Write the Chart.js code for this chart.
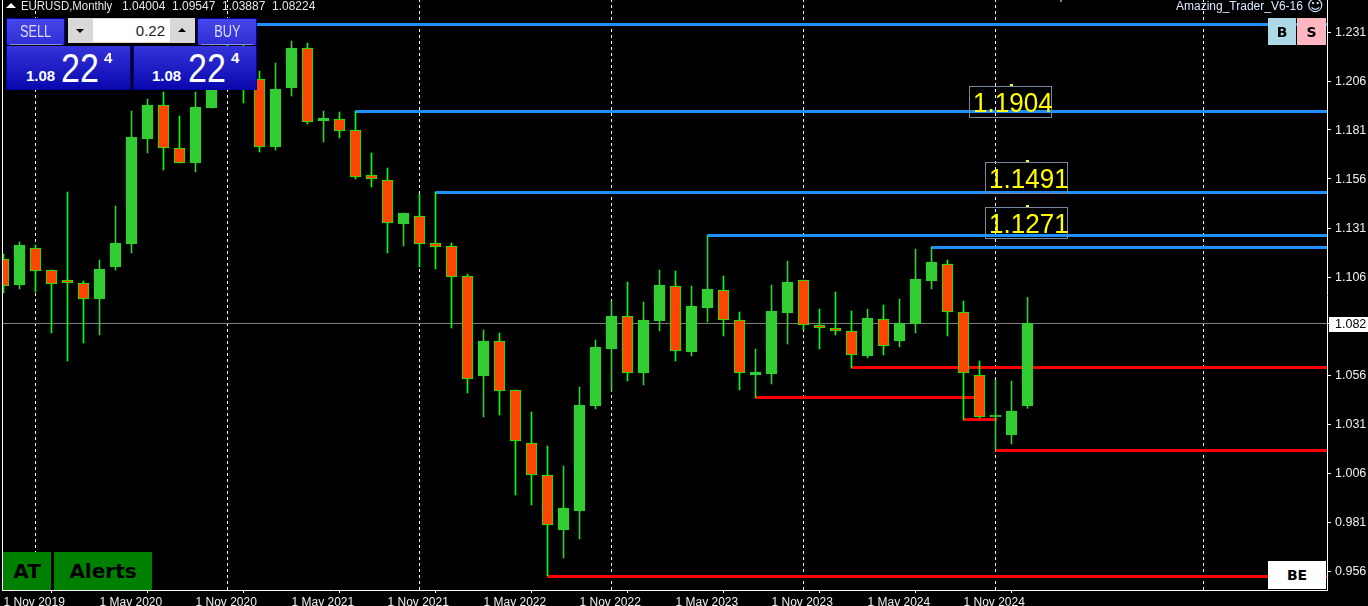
<!DOCTYPE html>
<html>
<head>
<meta charset="utf-8">
<title>EURUSD Monthly</title>
<script src="https://cdn.jsdelivr.net/npm/chart.js@4/dist/chart.umd.js"></script>
<style>
	html, body { margin: 0; padding: 0; background: #000; overflow: hidden; }
	#wrap { position: relative; width: 1368px; height: 606px; font-family: "Liberation Sans", Arial, sans-serif; }
	#ChartCanvas { position: absolute; left: 0; top: 0; }
	.ov { position: absolute; white-space: nowrap; }
	.head { top: -1px; color: #e6e6e6; font-size: 12px; line-height: 14px; }
	.btn { background: linear-gradient(#4646ea, #2e2ed4); color: #dcdcff; text-align: center; font-size: 16px; line-height: 25px; box-sizing: border-box; border: 1px solid #0000a0; border-bottom: 0; }
	.btn span { display: inline-block; transform: scaleX(0.8); }
	.rule { background: #8c8cf0; height: 1px; }
	.price { background: linear-gradient(#3434da, #0808ae); box-sizing: border-box; border: 1px solid #0000a0; border-top: 0; }
	.small { color: #fff; font-size: 15px; font-weight: bold; line-height: 16px; }
	.big { color: #fff; font-size: 40px; line-height: 44px; transform: scaleX(0.85); transform-origin: left center; }
	.pip { color: #fff; font-size: 15px; font-weight: bold; line-height: 16px; }
	.lvl { border: 1px solid #778899; color: #ffff00; font-size: 28px; line-height: 31px; width: 81px; height: 30px; text-align: center; }
	.lvl span { display: inline-block; transform: scaleX(0.93); }
	.dot { background: #ffff00; width: 3px; height: 2px; }
	.tag { font-family: "DejaVu Sans"; font-weight: bold; font-size: 14px; color: #000; text-align: center; }
	.green { background: #008000; top: 552px; height: 38px; color: #000; font-family: "DejaVu Sans"; font-weight: bold; font-size: 20px; line-height: 38px; text-align: center; }
</style>
</head>
<body>
<div id="wrap">
	<canvas id="ChartCanvas" width="1368" height="606"></canvas>

	<div class="ov" style="left:6px;top:3px;width:0;height:0;border-left:5px solid transparent;border-right:5px solid transparent;border-bottom:5px solid #fff;"></div>
	<div class="ov head" style="left:21px;transform:scaleX(0.95);transform-origin:left center;">EURUSD,Monthly</div>
	<div class="ov head" style="left:122px;">1.04004</div>
	<div class="ov head" style="left:172px;">1.09547</div>
	<div class="ov head" style="left:222px;">1.03887</div>
	<div class="ov head" style="left:272px;">1.08224</div>

	<div class="ov btn" style="left:6px;top:18px;width:59px;height:27px;"><span>SELL</span></div>
	<div class="ov rule" style="left:10px;top:44px;width:52px;"></div>
	<div class="ov" style="left:68px;top:18px;width:127px;height:25px;background:#d8d8d8;"></div>
	<div class="ov" style="left:93px;top:19px;width:77px;height:23px;background:#fff;"></div>
	<div class="ov" style="left:93px;top:19px;width:72px;height:23px;line-height:24px;font-size:15px;color:#222;text-align:right;">0.22</div>
	<div class="ov" style="left:76px;top:29px;width:0;height:0;border-left:4px solid transparent;border-right:4px solid transparent;border-top:4px solid #000;"></div>
	<div class="ov" style="left:178px;top:28px;width:0;height:0;border-left:4px solid transparent;border-right:4px solid transparent;border-bottom:4px solid #000;"></div>
	<div class="ov btn" style="left:197px;top:18px;width:60px;height:27px;"><span>BUY</span></div>
	<div class="ov rule" style="left:201px;top:44px;width:52px;"></div>

	<div class="ov price" style="left:6px;top:46px;width:125px;height:44px;"></div>
	<div class="ov small" style="left:26px;top:68px;">1.08</div>
	<div class="ov big" style="left:61px;top:46px;">22</div>
	<div class="ov pip" style="left:104px;top:50px;">4</div>
	<div class="ov price" style="left:133px;top:46px;width:124px;height:44px;"></div>
	<div class="ov small" style="left:152px;top:68px;">1.08</div>
	<div class="ov big" style="left:188px;top:46px;">22</div>
	<div class="ov pip" style="left:231px;top:50px;">4</div>

	<div class="ov" style="left:1176px;top:-1px;color:#d8e8ff;font-size:12px;line-height:14px;">Amazing_Trader_V6-16</div>
	<div class="ov" style="left:1307px;top:-3px;color:#d8e8ff;font-family:'DejaVu Sans';font-size:16px;line-height:18px;">&#9786;</div>
	<div class="ov tag" style="left:1268px;top:18px;width:28px;height:27px;background:#add8e6;line-height:28px;">B</div>
	<div class="ov tag" style="left:1297px;top:18px;width:29px;height:27px;background:#ffb6c1;line-height:28px;">S</div>

	<div class="ov" style="left:1060px;top:0;width:2px;height:2px;background:#778899;"></div>
	<div class="ov lvl" style="left:969px;top:86px;"><span>1.1904</span></div>
	<div class="ov dot" style="left:1010px;top:84px;"></div>
	<div class="ov lvl" style="left:985px;top:162px;"><span>1.1491</span></div>
	<div class="ov dot" style="left:1026px;top:160px;"></div>
	<div class="ov lvl" style="left:985px;top:207px;"><span>1.1271</span></div>
	<div class="ov dot" style="left:1026px;top:205px;"></div>

	<div class="ov tag" style="left:1268px;top:561px;width:58px;height:28px;background:#fff;line-height:29px;">BE</div>
	<div class="ov green" style="left:3px;width:48px;">AT</div>
	<div class="ov green" style="left:54px;width:98px;">Alerts</div>
</div>

<script>
// monthly candles, Nov 2019 to Mar 2025
const opens = [
	1.11505, 1.10179, 1.12066, 1.10944, 1.10434, 1.10281, 1.09464, 1.11097, 1.12270, 1.17628,
	1.19362, 1.17168, 1.16403, 1.19209, 1.22168, 1.21352, 1.20688, 1.17219, 1.20229, 1.22270,
	1.18546, 1.18648, 1.18087, 1.15791, 1.15536, 1.13291, 1.13699, 1.12321, 1.12168, 1.10638,
	1.05536, 1.07321, 1.04821, 1.02117, 1.00485, 0.97678, 0.98648, 1.04005, 1.06913, 1.08597,
	1.05689, 1.08342, 1.10128, 1.06760, 1.09005, 1.09923, 1.08393, 1.05587, 1.05638, 1.08750,
	1.10434, 1.08137, 1.07984, 1.07831, 1.06556, 1.08444, 1.07321, 1.08189, 1.10383, 1.11250,
	1.08801, 1.05587, 1.03444, 1.02526, 1.04004
];
const highs = [
	1.11760, 1.12372, 1.12219, 1.10944, 1.14923, 1.10383, 1.11454, 1.14209, 1.19056, 1.19668,
	1.20025, 1.18801, 1.20025, 1.22372, 1.23495, 1.22423, 1.21097, 1.21505, 1.22627, 1.22525,
	1.19056, 1.19005, 1.19056, 1.16913, 1.16148, 1.13852, 1.14821, 1.14923, 1.12321, 1.10740,
	1.07882, 1.07729, 1.04821, 1.03699, 1.01964, 1.00944, 1.04975, 1.07372, 1.09362, 1.10332,
	1.09311, 1.10944, 1.10893, 1.10128, 1.12729, 1.10638, 1.08801, 1.06913, 1.10179, 1.11403,
	1.10434, 1.08954, 1.09821, 1.08851, 1.08954, 1.09158, 1.09464, 1.12015, 1.12117, 1.11454,
	1.09362, 1.06301, 1.05331, 1.05281, 1.09547
];
const lows = [
	1.09770, 1.09974, 1.09821, 1.07729, 1.06301, 1.07219, 1.07627, 1.10944, 1.11811, 1.16913,
	1.16046, 1.16403, 1.15944, 1.19209, 1.20841, 1.19464, 1.16964, 1.17066, 1.19821, 1.18393,
	1.17475, 1.17679, 1.15587, 1.15179, 1.11811, 1.12168, 1.11097, 1.10995, 1.07984, 1.04668,
	1.03444, 1.03546, 0.99464, 0.98954, 0.95331, 0.96250, 0.97219, 1.03852, 1.04770, 1.05281,
	1.05077, 1.07831, 1.06301, 1.06556, 1.08291, 1.07576, 1.04821, 1.04413, 1.05128, 1.07168,
	1.07882, 1.06913, 1.07627, 1.05944, 1.06454, 1.06607, 1.07015, 1.07729, 1.09974, 1.07576,
	1.03291, 1.03393, 1.01760, 1.02066, 1.03887
];
const closes = [
	1.10128, 1.12219, 1.10893, 1.10230, 1.10281, 1.09464, 1.10995, 1.12321, 1.17730, 1.19362,
	1.17168, 1.16403, 1.19260, 1.22168, 1.21352, 1.20688, 1.17219, 1.20178, 1.22270, 1.18495,
	1.18699, 1.18036, 1.15689, 1.15587, 1.13342, 1.13852, 1.12270, 1.12117, 1.10587, 1.05383,
	1.07321, 1.04770, 1.02219, 1.00485, 0.97933, 0.98801, 1.04056, 1.07015, 1.08597, 1.05689,
	1.08393, 1.10179, 1.06811, 1.09107, 1.09974, 1.08393, 1.05689, 1.05740, 1.08851, 1.10332,
	1.08137, 1.07984, 1.07831, 1.06607, 1.08495, 1.07066, 1.08240, 1.10485, 1.11352, 1.08801,
	1.05689, 1.03444, 1.03546, 1.03750, 1.08224
];

const xTickMonths = [0, 6, 12, 18, 24, 30, 36, 42, 48, 54, 60];
const xTickLabels = ['1 Nov 2019', '1 May 2020', '1 Nov 2020', '1 May 2021', '1 Nov 2021', '1 May 2022', '1 Nov 2022', '1 May 2023', '1 Nov 2023', '1 May 2024', '1 Nov 2024'];
const yTicks = [1.23086, 1.20586, 1.18087, 1.15587, 1.13086, 1.10586, 1.05586, 1.03086, 1.00586, 0.98086, 0.95586];
const bidPrice = 1.08214;

// dashed period separators, month index
const separators = [2, 14, 26, 38, 50, 62, 75];

// horizontal levels: month it starts at, month it ends at, price
const blueStart = [14, 22, 27, 44, 58];
const blueEnd = [83, 83, 83, 83, 83];
const blueLevel = [1.23469, 1.19030, 1.14897, 1.12704, 1.12092];
const redStart = [34, 47, 53, 60, 62];
const redEnd = [83, 61, 83, 62.1, 83];
const redLevel = [0.95306, 1.04438, 1.05969, 1.03316, 1.01734];

const yMin = 0.94617;
const yMax = 1.24719;

function isUp(i) {
	return closes[i] >= opens[i];
}

function levelSet(starts, ends, levels, color) {
	return levels.map(function (lvl, i) {
		return {
			type: 'line',
			data: [{ x: starts[i], y: lvl }, { x: ends[i], y: lvl }],
			borderColor: color,
			borderWidth: 3,
			pointRadius: 0,
			order: 3
		};
	});
}

let datasets = [];

// candle wicks and bodies are two floating bar sets on the same x
datasets.push({
	data: opens.map(function (o, i) { return { x: i, y: [lows[i], highs[i]] }; }),
	backgroundColor: function (c) { return isUp(c.dataIndex) ? '#32cd32' : '#00ff00'; },
	barThickness: 1,
	grouped: false,
	order: 2
});
datasets.push({
	data: opens.map(function (o, i) { return { x: i, y: [o, closes[i]] }; }),
	backgroundColor: function (c) { return isUp(c.dataIndex) ? '#32cd32' : '#ff4500'; },
	borderColor: function (c) { return isUp(c.dataIndex) ? '#32cd32' : '#00ff00'; },
	borderWidth: 1,
	borderSkipped: false,
	barThickness: 11,
	grouped: false,
	order: 1
});

datasets = datasets.concat(levelSet(blueStart, blueEnd, blueLevel, '#1e90ff'));
datasets = datasets.concat(levelSet(redStart, redEnd, redLevel, '#ff0000'));

datasets.push({
	type: 'line',
	data: [{ x: -1, y: bidPrice }, { x: 83, y: bidPrice }],
	borderColor: '#808080',
	borderWidth: 1,
	pointRadius: 0,
	order: 4
});

separators.forEach(function (m) {
	datasets.push({
		type: 'line',
		data: [{ x: m, y: yMin }, { x: m, y: yMax }],
		borderColor: '#ffffff',
		borderWidth: 1,
		borderDash: [3, 3],
		pointRadius: 0,
		order: 5
	});
});

// left edge of the chart window, the scales only give bottom and right
const leftEdge = {
	id: 'leftEdge',
	afterDatasetsDraw: function (chart) {
		const a = chart.chartArea;
		const ctx = chart.ctx;
		ctx.save();
		ctx.fillStyle = '#ffffff';
		ctx.fillRect(a.left, a.top, 1, a.bottom - a.top);
		ctx.restore();
	}
};

var ctx = document.getElementById('ChartCanvas').getContext('2d');
var chart = new Chart(ctx, {
	type: 'bar',
	data: { datasets: datasets },
	plugins: [leftEdge],
	options: {
		responsive: false,
		animation: false,
		events: [],
		layout: { padding: { left: 2, right: 0, top: 0, bottom: 0 } },
		plugins: { legend: { display: false }, tooltip: { enabled: false } },
		scales: {
			x: {
				type: 'linear',
				offset: false,
				min: -0.09375,
				max: 82.71875,
				grid: { display: true, drawOnChartArea: false, drawTicks: true, tickLength: 3, color: '#ffffff' },
				border: { color: '#ffffff' },
				afterBuildTicks: function (s) {
					s.ticks = xTickMonths.map(function (m) { return { value: m }; });
				},
				afterFit: function (s) {
					s.height = 16;
					s.paddingLeft = 0;
					s.paddingRight = 0;
				},
				ticks: {
					autoSkip: false,
					maxRotation: 0,
					align: 'start',
					padding: 2,
					color: '#f0f0f0',
					font: { family: '"Liberation Sans"', size: 12 },
					callback: function (v) { return xTickLabels[xTickMonths.indexOf(v)]; }
				}
			},
			y: {
				type: 'linear',
				position: 'right',
				min: yMin,
				max: yMax,
				grid: { display: true, drawOnChartArea: false, drawTicks: true, tickLength: 4, color: '#ffffff' },
				border: { color: '#ffffff' },
				afterBuildTicks: function (s) {
					s.ticks = yTicks.concat([bidPrice]).map(function (v) { return { value: v }; });
				},
				afterFit: function (s) {
					s.width = 41;
					s.paddingTop = 0;
					s.paddingBottom = 0;
				},
				ticks: {
					autoSkip: false,
					padding: 4,
					labelOffset: 1,
					color: function (c) { return c.tick.value === bidPrice ? '#000000' : '#f0f0f0'; },
					showLabelBackdrop: function (c) { return c.tick.value === bidPrice; },
					backdropColor: '#ffffff',
					backdropPadding: { left: 6, right: 3, top: 0, bottom: 0 },
					font: { family: '"Liberation Sans"', size: 12.5 },
					callback: function (v) { return v.toFixed(3); }
				}
			}
		}
	}
});
</script>
</body>
</html>
